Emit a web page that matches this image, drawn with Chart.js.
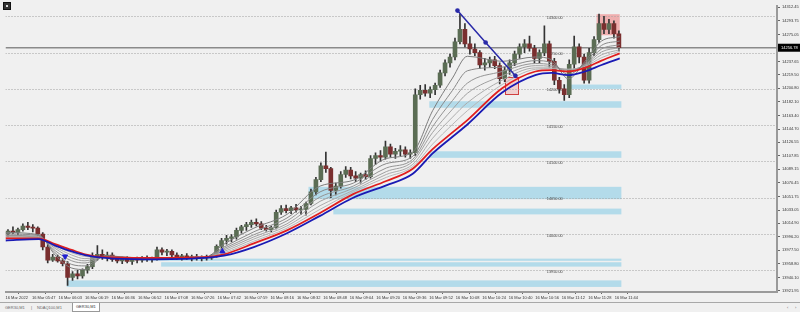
<!DOCTYPE html>
<html>
<head>
<meta charset="utf-8">
<script src="https://cdn.jsdelivr.net/npm/chart.js@4.4.1/dist/chart.umd.min.js"></script>
<style>
    body { margin: 0; background: #f0f0f0; width: 800px; height: 312px; overflow: hidden; font-family: "Liberation Sans", Arial, sans-serif; }
    #wrap { position: absolute; left: 0; top: 0; width: 800px; height: 301px; }
    #icon { position: absolute; left: 3px; top: 2px; width: 6px; height: 6px; background: #333; border: 1px solid #111; }
    #icon:after { content: ''; position: absolute; left: 2px; top: 2px; width: 2px; height: 2px; background: #ddd; }
    #tabs { position: absolute; left: 0; top: 302px; width: 800px; height: 10px; border-top: 1px solid #a8a8a8; font-size: 4px; color: #666; }
    #tabs span { position: absolute; top: 2px; }
    #tabs .active { top: 0; padding: 1px 3px 2px 3px; background: #fff; border: 1px solid #999; border-top: none; color: #333; }
</style>
</head>
<body>
<div id="wrap"><canvas id="chart"></canvas></div>
<div id="icon"></div>
<div id="tabs">
    <span style="left:5px">GER30,M1</span>
    <span style="left:31px">|</span>
    <span style="left:37px">NDAQ100,M1</span>
    <span class="active" style="left:72px">GER30,M1</span>
    <span style="left:787px">‹</span>
    <span style="left:795px">›</span>
</div>
<script>
// x axis labels (one label every 16 one-minute bars)
const timeLabels = ['16 Mar 2022', '16 Mar 05:47', '16 Mar 06:03', '16 Mar 06:19', '16 Mar 06:36', '16 Mar 06:52',
    '16 Mar 07:08', '16 Mar 07:26', '16 Mar 07:42', '16 Mar 07:59', '16 Mar 08:16', '16 Mar 08:32',
    '16 Mar 08:48', '16 Mar 09:04', '16 Mar 09:20', '16 Mar 09:36', '16 Mar 09:52', '16 Mar 10:08',
    '16 Mar 10:24', '16 Mar 10:40', '16 Mar 10:56', '16 Mar 11:12', '16 Mar 11:28', '16 Mar 11:44'];
const timeTicks = [0, 16, 32, 48, 64, 80, 96, 112, 128, 144, 160, 176, 192, 208, 224, 240, 256, 272, 288, 304, 320, 336, 352, 368];

const priceTicks = [14312.45, 14293.75, 14275.05, 14237.65, 14219.50, 14200.80, 14182.10, 14163.40, 14144.70,
    14126.55, 14107.85, 14089.15, 14070.45, 14051.75, 14033.05, 14014.90, 13996.20, 13977.50, 13958.80,
    13940.10, 13921.95];
const lastPrice = 14256.78;

// candles (3-minute groups)
const opens = [
    14000, 14004, 14002, 14006, 14011, 14009, 14008, 14000, 13982, 13964,
    13968, 13963, 13959, 13940, 13945, 13942, 13950, 13955, 13970, 13972,
    13969, 13971, 13965, 13963, 13966, 13962, 13965, 13964, 13967, 13965,
    13966, 13978, 13975, 13976, 13971, 13968, 13970, 13967, 13969, 13966,
    13968, 13967, 13970, 13983, 13991, 13994, 13996, 14005, 14010, 14013,
    14016, 14014, 14008, 14006, 14009, 14030, 14035, 14032, 14036, 14033,
    14034, 14042, 14058, 14075, 14094, 14090, 14060, 14066, 14082, 14088,
    14080, 14077, 14082, 14079, 14104, 14108, 14106, 14120, 14110, 14114,
    14116, 14110, 14112, 14192, 14198, 14194, 14199, 14205, 14222, 14236,
    14244, 14265, 14282, 14262, 14255, 14250, 14233, 14236, 14240, 14232,
    14214, 14226, 14236, 14248, 14258, 14262, 14256, 14242, 14250, 14262,
    14238, 14212, 14200, 14192, 14234, 14258, 14244, 14212, 14250, 14268,
    14290, 14282, 14290, 14276];
const highs = [
    14006, 14010, 14008, 14014, 14016, 14013, 14010, 14002, 13988, 13972,
    13971, 13966, 13962, 13948, 13950, 13952, 13958, 13974, 13984, 13978,
    13975, 13974, 13969, 13968, 13969, 13967, 13968, 13969, 13970, 13968,
    13982, 13981, 13979, 13978, 13974, 13972, 13973, 13971, 13972, 13970,
    13971, 13972, 13985, 13994, 13998, 13999, 14008, 14012, 14016, 14019,
    14021, 14017, 14012, 14011, 14033, 14039, 14040, 14038, 14041, 14038,
    14044, 14062, 14078, 14098, 14113, 14092, 14070, 14086, 14093, 14092,
    14086, 14084, 14087, 14108, 14112, 14115, 14128, 14124, 14118, 14122,
    14120, 14116, 14200, 14205, 14206, 14203, 14208, 14226, 14240, 14248,
    14270, 14303, 14290, 14272, 14262, 14253, 14242, 14244, 14245, 14236,
    14230, 14240, 14252, 14262, 14268, 14273, 14260, 14254, 14287, 14266,
    14242, 14216, 14206, 14240, 14273, 14262, 14248, 14256, 14272, 14303,
    14300, 14296, 14294, 14280];
const lows = [
    13996, 14000, 13998, 14004, 14006, 14003, 13998, 13978, 13960, 13962,
    13961, 13956, 13929, 13936, 13938, 13939, 13946, 13952, 13964, 13965,
    13963, 13962, 13960, 13959, 13960, 13958, 13960, 13961, 13962, 13961,
    13964, 13971, 13970, 13968, 13965, 13964, 13965, 13963, 13964, 13963,
    13964, 13965, 13968, 13980, 13986, 13989, 13993, 14001, 14005, 14009,
    14011, 14006, 14004, 14003, 14007, 14027, 14029, 14028, 14030, 14027,
    14026, 14040, 14054, 14072, 14085, 14050, 14054, 14063, 14078, 14076,
    14072, 14070, 14075, 14077, 14096, 14100, 14103, 14106, 14104, 14108,
    14106, 14104, 14108, 14186, 14190, 14188, 14192, 14202, 14218, 14230,
    14240, 14262, 14258, 14248, 14246, 14228, 14226, 14230, 14228, 14207,
    14210, 14220, 14232, 14242, 14250, 14252, 14236, 14236, 14246, 14230,
    14206, 14194, 14184, 14188, 14228, 14236, 14208, 14208, 14246, 14264,
    14276, 14276, 14270, 14252];
const closes = [
    14004, 14002, 14006, 14011, 14009, 14008, 14000, 13982, 13964, 13968,
    13963, 13959, 13940, 13945, 13942, 13950, 13955, 13970, 13972, 13969,
    13971, 13965, 13963, 13966, 13962, 13965, 13964, 13967, 13965, 13966,
    13978, 13975, 13976, 13971, 13968, 13970, 13967, 13969, 13966, 13968,
    13967, 13970, 13983, 13991, 13994, 13996, 14005, 14010, 14013, 14016,
    14014, 14008, 14006, 14009, 14030, 14035, 14032, 14036, 14033, 14034,
    14042, 14058, 14075, 14094, 14090, 14060, 14066, 14082, 14088, 14080,
    14077, 14082, 14079, 14104, 14108, 14106, 14120, 14110, 14114, 14116,
    14110, 14112, 14192, 14198, 14194, 14199, 14205, 14222, 14236, 14244,
    14265, 14282, 14262, 14255, 14250, 14233, 14236, 14240, 14232, 14214,
    14226, 14236, 14248, 14258, 14262, 14256, 14242, 14250, 14262, 14238,
    14212, 14200, 14192, 14234, 14258, 14244, 14212, 14250, 14268, 14290,
    14282, 14290, 14276, 14257];

// moving averages, sampled at these bar positions
const maX = [0, 20, 30, 40, 48, 60, 84, 120, 132, 150, 170, 190, 210, 230, 246, 258, 270, 279, 300, 320, 330, 340, 350, 360, 371];
const ma1 = [14002, 13999, 13971, 13953, 13951, 13970, 13966, 13967, 13986, 14008, 14027, 14066, 14074, 14104, 14113, 14170, 14215, 14245, 14238, 14244, 14240, 14214, 14238, 14266, 14272];
const ma2 = [14000, 13998, 13974, 13958, 13956, 13969, 13966, 13967, 13982, 14003, 14022, 14058, 14070, 14097, 14107, 14158, 14198, 14225, 14230, 14239, 14236, 14220, 14236, 14260, 14266];
const ma3 = [13998, 13997, 13977, 13963, 13960, 13969, 13967, 13968, 13980, 13999, 14018, 14051, 14066, 14091, 14103, 14148, 14184, 14208, 14224, 14235, 14233, 14224, 14234, 14255, 14261];
const ma4 = [13997, 13996, 13980, 13967, 13963, 13969, 13967, 13968, 13978, 13996, 14014, 14045, 14063, 14086, 14100, 14140, 14172, 14194, 14218, 14232, 14231, 14226, 14233, 14251, 14257];
const ma5 = [13996, 13995, 13982, 13971, 13966, 13968, 13967, 13968, 13976, 13993, 14011, 14039, 14060, 14082, 14096, 14132, 14161, 14181, 14212, 14229, 14229, 14227, 14232, 14247, 14254];
const ma6 = [13995, 13995, 13984, 13974, 13969, 13968, 13967, 13968, 13974, 13990, 14008, 14034, 14058, 14078, 14093, 14124, 14151, 14170, 14206, 14227, 14228, 14227, 14231, 14243, 14252];
const maRed = [13994, 13994, 13986, 13978, 13972, 13968, 13967, 13968, 13972, 13987, 14005, 14029, 14055, 14073, 14090, 14117, 14140, 14157, 14201, 14224, 14226, 14224, 14229, 14239, 14249];
const maBlue = [13991, 13993, 13984, 13976, 13971, 13967, 13965, 13967, 13970, 13982, 14001, 14025, 14050, 14067, 14083, 14111, 14134, 14151, 14195, 14219, 14222, 14219, 14224, 14233, 14242];

// drawn objects
const zoneStart = [339, 256, 256, 183, 198, 84, 94, 37];
const zoneEnd = [372, 372, 372, 372, 372, 372, 372, 372];
const zoneLow = [14200, 14174, 14105, 14048, 14027, 13963, 13955, 13927];
const zoneHigh = [14206, 14183, 14114, 14065, 14035, 13966, 13961, 13936];
const levels = [14300, 14250, 14200, 14150, 14100, 14050, 14000, 13950];
const levelLabelX = 327;
const trendX = [273, 290, 308];
const trendY = [14308, 14264, 14218];
const arrowX = [36, 131];
const arrowY = [13969, 13976];

const barX = closes.map((c, i) => i * 3 + 1.5);
const bull = closes.map((c, i) => c >= opens[i]);

const overlay = {
    id: 'overlay',
    beforeDatasetsDraw(chart) {
        const {ctx, chartArea: a, scales: {x, y}} = chart;
        ctx.save();
        ctx.beginPath();
        ctx.rect(a.left, a.top, a.width, a.height);
        ctx.clip();
        // support / resistance zones
        ctx.fillStyle = '#b3dbea';
        zoneStart.forEach((s, i) => {
            const x0 = x.getPixelForValue(s), x1 = x.getPixelForValue(zoneEnd[i]);
            const y0 = y.getPixelForValue(zoneHigh[i]), y1 = y.getPixelForValue(zoneLow[i]);
            ctx.fillRect(x0, y0, x1 - x0, y1 - y0);
        });
        // red rectangle at the top
        let x0 = x.getPixelForValue(357), x1 = x.getPixelForValue(371);
        let y0 = y.getPixelForValue(14303), y1 = y.getPixelForValue(14274);
        ctx.fillStyle = 'rgba(238,120,120,0.55)';
        ctx.fillRect(x0, y0, x1 - x0, y1 - y0);
        // small red box
        x0 = x.getPixelForValue(302); x1 = x.getPixelForValue(310);
        y0 = y.getPixelForValue(14216); y1 = y.getPixelForValue(14193);
        ctx.fillStyle = 'rgba(240,150,150,0.35)';
        ctx.fillRect(x0, y0, x1 - x0, y1 - y0);
        ctx.strokeStyle = '#d04040';
        ctx.lineWidth = 1;
        ctx.strokeRect(Math.round(x0) + 0.5, Math.round(y0) + 0.5, Math.round(x1 - x0), Math.round(y1 - y0));
        // dotted round levels
        ctx.strokeStyle = '#a0a0a0';
        ctx.setLineDash([1, 2]);
        levels.forEach(v => {
            const py = Math.round(y.getPixelForValue(v)) + 0.5;
            ctx.beginPath();
            ctx.moveTo(a.left, py);
            ctx.lineTo(a.right, py);
            ctx.stroke();
        });
        ctx.setLineDash([]);
        ctx.font = '3.8px "Liberation Sans"';
        ctx.fillStyle = '#444';
        ctx.textBaseline = 'middle';
        levels.forEach(v => ctx.fillText(v.toFixed(2), x.getPixelForValue(levelLabelX), y.getPixelForValue(v) + 1.5));
        // last price line
        const py = y.getPixelForValue(lastPrice);
        ctx.strokeStyle = '#8a8a8a';
        ctx.lineWidth = 1.5;
        ctx.beginPath();
        ctx.moveTo(a.left, py);
        ctx.lineTo(a.right, py);
        ctx.stroke();
        ctx.restore();
    },
    afterDraw(chart) {
        const {ctx, chartArea: a, scales: {y}} = chart;
        const py = y.getPixelForValue(lastPrice);
        ctx.save();
        ctx.fillStyle = '#000';
        ctx.fillRect(a.right + 1, py - 4, 22, 8);
        ctx.fillStyle = '#fff';
        ctx.font = '4px "Liberation Sans"';
        ctx.textBaseline = 'middle';
        ctx.fillText(lastPrice.toFixed(2), a.right + 4, py);
        ctx.restore();
    }
};

const maLine = (data, color, width, order) => ({
    type: 'line',
    data: maX.map((v, i) => ({x: v, y: data[i]})),
    borderColor: color,
    borderWidth: width,
    pointRadius: 0,
    cubicInterpolationMode: 'monotone',
    order: order,
});

new Chart(document.getElementById('chart'), {
    type: 'bar',
    data: {
        datasets: [
            {
                // wicks
                data: barX.map((v, i) => ({x: v, y: [lows[i], highs[i]]})),
                backgroundColor: '#333',
                barThickness: 1,
                maxBarThickness: 1,
                grouped: false,
                order: 11,
            },
            {
                // bodies
                data: barX.map((v, i) => ({x: v, y: [opens[i], closes[i]]})),
                backgroundColor: bull.map(b => b ? '#5b6d54' : '#7a2f2f'),
                borderColor: '#333',
                borderWidth: 0,
                barThickness: 4,
                maxBarThickness: 4,
                minBarLength: 1,
                grouped: false,
                order: 10,
            },
            maLine(ma6, '#b8b8b8', 1, 9),
            maLine(ma5, '#acacac', 1, 8),
            maLine(ma4, '#a0a0a0', 1, 7),
            maLine(ma3, '#949494', 1, 6),
            maLine(ma2, '#888888', 1, 5),
            maLine(ma1, '#7c7c7c', 1, 4),
            maLine(maRed, '#e01e1e', 1.8, 3),
            maLine(maBlue, '#1a1ab4', 1.8, 2),
            {
                type: 'line',
                data: trendX.map((v, i) => ({x: v, y: trendY[i]})),
                borderColor: '#2a2aa8',
                backgroundColor: '#2a2aa8',
                borderWidth: 1.5,
                pointRadius: 1.6,
                tension: 0,
                order: 1,
            },
            {
                type: 'line',
                data: arrowX.map((v, i) => ({x: v, y: arrowY[i]})),
                showLine: false,
                pointStyle: 'triangle',
                pointRadius: 3,
                rotation: [180, 0],
                backgroundColor: '#2020d0',
                borderColor: '#2020d0',
                order: 0,
            },
        ],
    },
    options: {
        responsive: true,
        maintainAspectRatio: false,
        animation: false,
        layout: {padding: 0},
        plugins: {
            legend: {display: false},
            tooltip: {enabled: false},
        },
        scales: {
            x: {
                type: 'linear',
                min: 0,
                max: 466,
                offset: false,
                afterBuildTicks: s => { s.ticks = timeTicks.map(v => ({value: v})); },
                afterFit: s => { s.height = 9; s.paddingLeft = 0; s.paddingRight = 0; },
                ticks: {
                    autoSkip: false,
                    maxRotation: 0,
                    align: 'start',
                    padding: 1,
                    color: '#333',
                    font: {size: 4, family: 'Liberation Sans'},
                    callback: (v, i) => timeLabels[i],
                },
                grid: {drawOnChartArea: false, tickLength: 2, color: '#666'},
                border: {color: '#9a9a9a', width: 2},
            },
            y: {
                position: 'right',
                min: 13920,
                max: 14315,
                afterBuildTicks: s => { s.ticks = priceTicks.map(v => ({value: v})); },
                afterFit: s => { s.width = 23; s.paddingTop = 0; s.paddingBottom = 0; },
                ticks: {
                    autoSkip: false,
                    padding: 2,
                    color: '#333',
                    font: {size: 4, family: 'Liberation Sans'},
                    callback: v => v.toFixed(2),
                },
                grid: {drawOnChartArea: false, tickLength: 3, color: '#666'},
                border: {color: '#9a9a9a', width: 2},
            },
        },
    },
    plugins: [overlay],
});
</script>
</body>
</html>
